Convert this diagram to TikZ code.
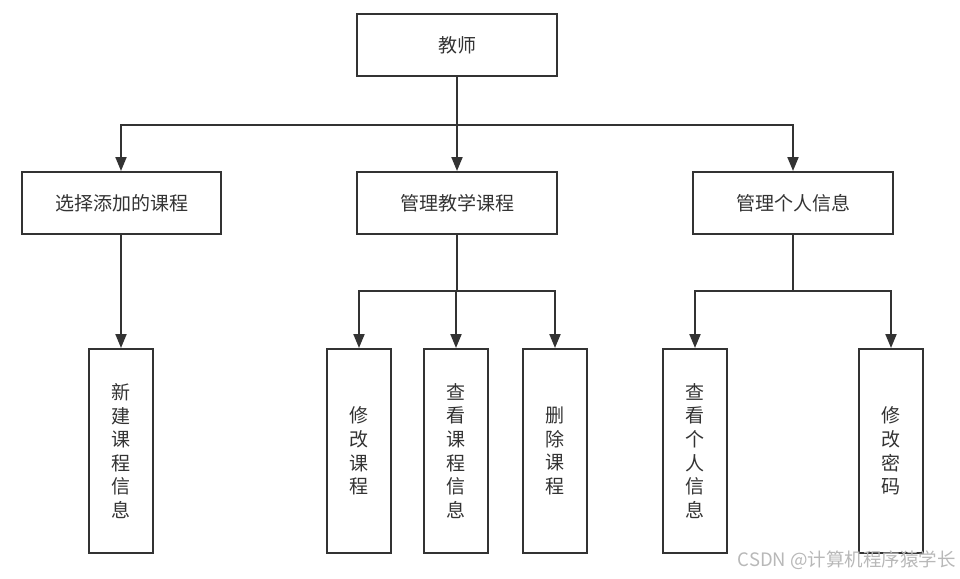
\documentclass[tikz,border=0pt]{standalone}
\usepackage{fontspec}
\newfontfamily\cjk{Noto Sans CJK SC}
\usetikzlibrary{arrows.meta}
\definecolor{ink}{HTML}{333333}
\definecolor{wm}{HTML}{B8B8B8}
\tikzset{
  box/.style={draw=ink, line width=2pt, fill=white, text=ink, inner sep=0pt,
    font=\cjk\fontsize{19}{23.6}\selectfont, align=center},
  wide/.style={box, minimum width=200pt, minimum height=62pt},
  tall/.style={box, minimum width=64pt, minimum height=204pt},
  conn/.style={draw=ink, line width=2pt},
  stem/.style={draw=ink, line width=2.6pt},
  arr/.style={conn, -{Triangle[width=11pt,length=14pt]}},
}
\begin{document}
\begin{tikzpicture}[x=1pt,y=-1pt]
\useasboundingbox (0,0) rectangle (960,578);
\node[wide] (top) at (457,45) {教师};
\node[wide, minimum width=199pt] (a) at (121.5,203) {选择添加的课程};
\node[wide] (b) at (457,203) {管理教学课程};
\node[wide] (c) at (793,203) {管理个人信息};
\node[tall] (a1) at (121,451) {新\\建\\课\\程\\信\\息};
\node[tall] (b1) at (359,451) {修\\改\\课\\程};
\node[tall] (b2) at (456,451) {查\\看\\课\\程\\信\\息};
\node[tall] (b3) at (555,451) {删\\除\\课\\程};
\node[tall] (c1) at (695,451) {查\\看\\个\\人\\信\\息};
\node[tall] (c2) at (891,451) {修\\改\\密\\码};
% level 1
\draw[stem] (top.south) -- (457,125) coordinate (j0);
\draw[arr] (j0) -| (a1.north |- a.north);
\draw[arr] (j0) -- (b.north);
\draw[arr] (j0) -| (c.north);
% level 2
\draw[arr] (a1.north |- a.south) -- (a1.north);
\draw[stem] (b.south) -- (457,291) coordinate (jb);
\draw[arr] (jb) -| (b1.north);
\draw[arr] (jb) -| (b2.north);
\draw[arr] (jb) -| (b3.north);
\draw[stem] (c.south) -- (793,291) coordinate (jc);
\draw[arr] (jc) -| (c1.north);
\draw[arr] (jc) -| (c2.north);
\node[anchor=east, text=wm, inner sep=0pt, font=\cjk\fontsize{18.5}{20}\selectfont] (wmk) at (956,560) {CSDN @计算机程序猿学长};
\end{tikzpicture}
\end{document}
